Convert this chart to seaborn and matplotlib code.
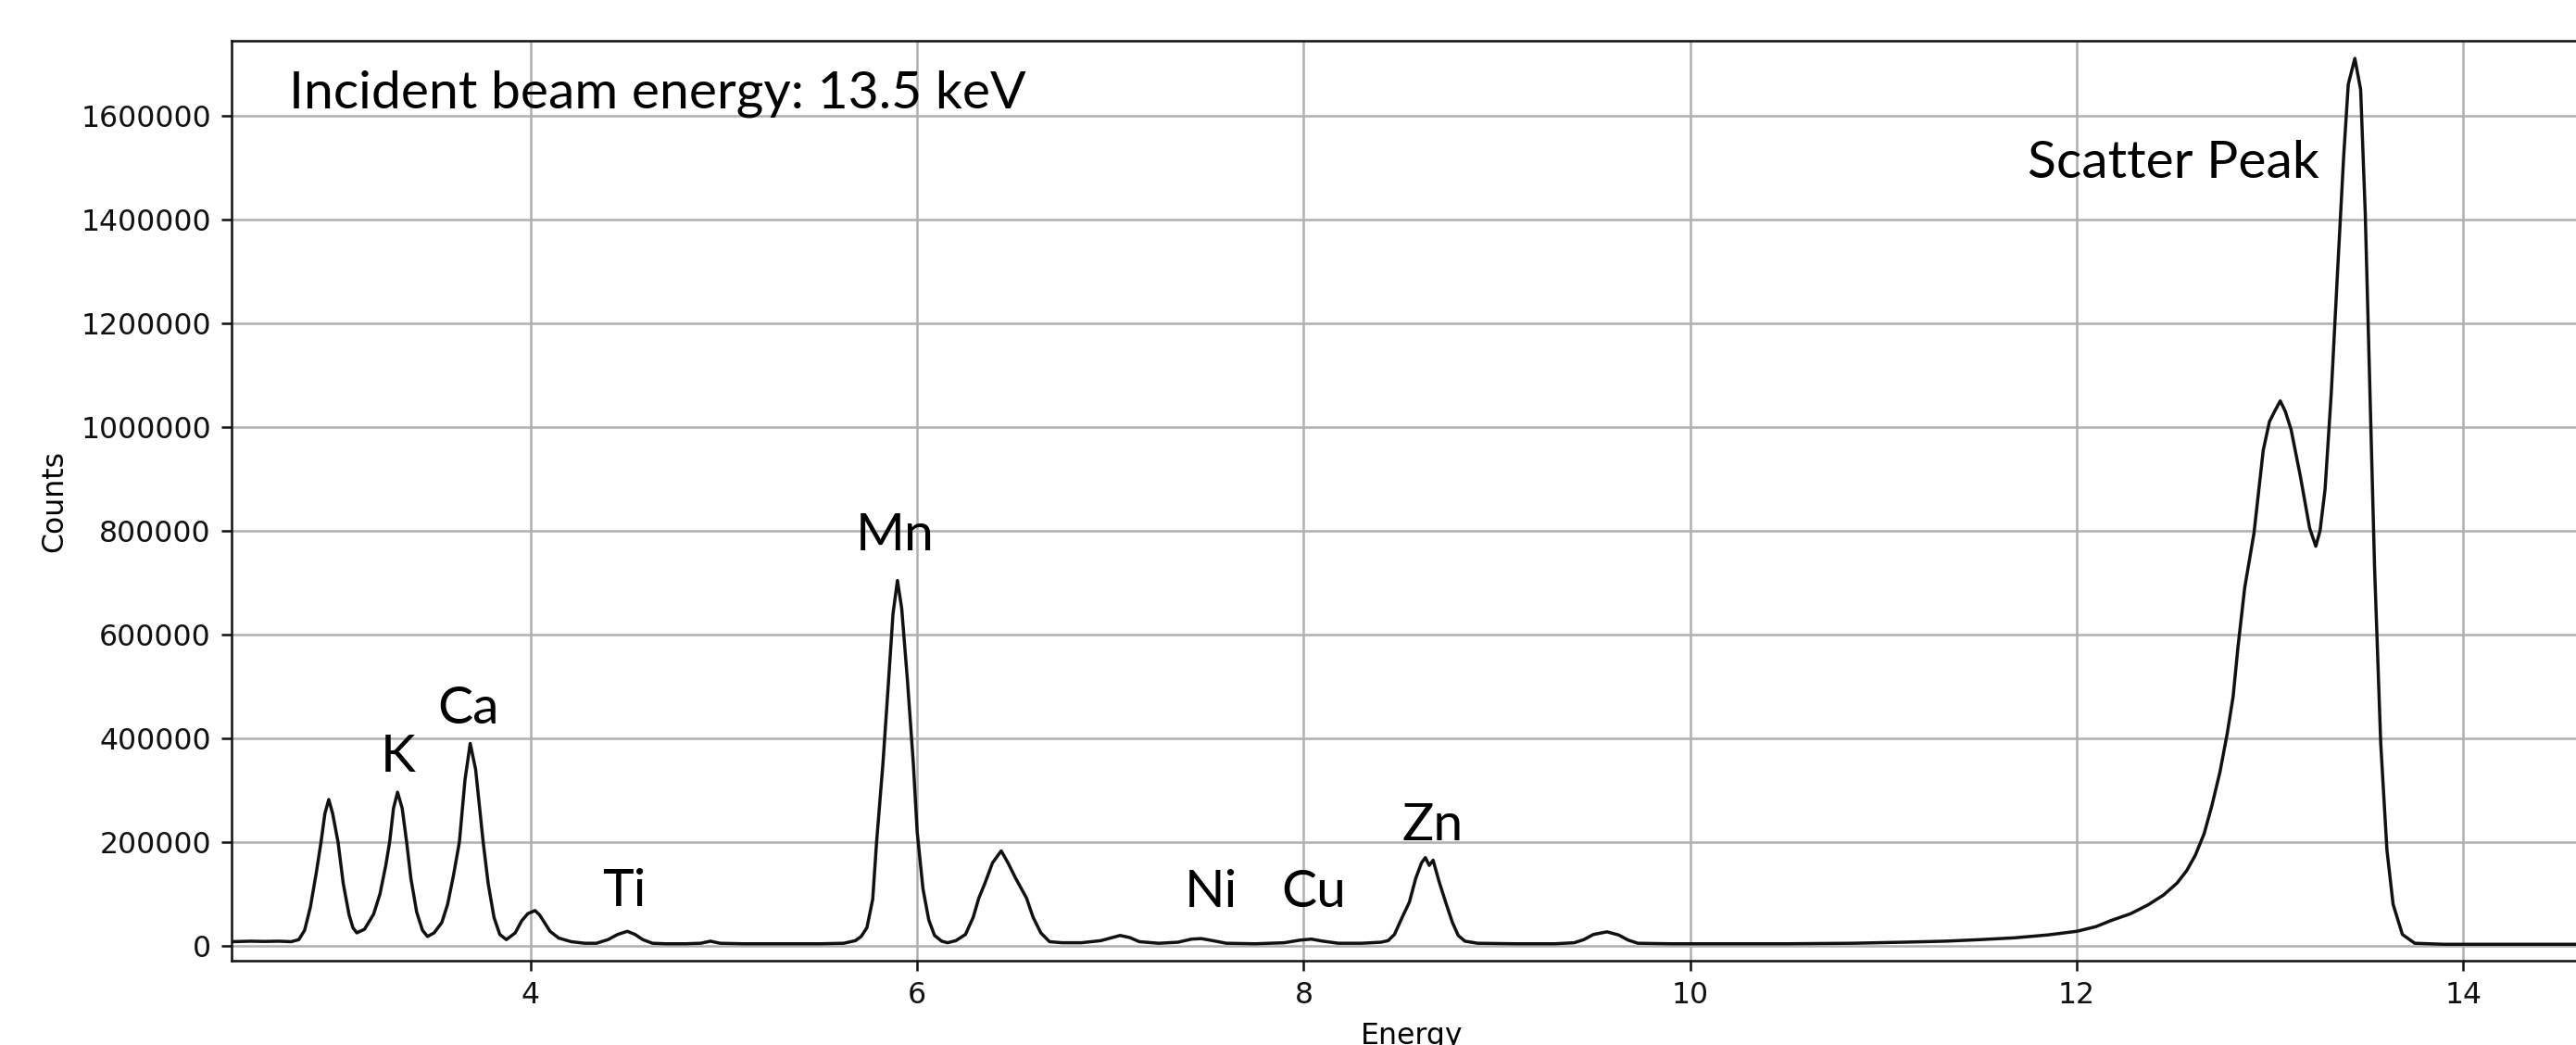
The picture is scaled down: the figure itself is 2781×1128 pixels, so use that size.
import numpy as np
import pandas as pd
import matplotlib
matplotlib.use('Agg')
import matplotlib.pyplot as plt
import seaborn as sns

# XRF spectrum (energy in keV, counts)
energy = [2.45, 2.55, 2.62, 2.70, 2.76, 2.80, 2.83, 2.86, 2.89, 2.915, 2.935, 2.955, 2.975,
          3.003, 3.03, 3.06, 3.08, 3.10, 3.14, 3.187, 3.22, 3.25, 3.27, 3.29, 3.311, 3.335,
          3.358, 3.38, 3.41, 3.44, 3.466, 3.50, 3.54, 3.57, 3.60, 3.631, 3.66, 3.687, 3.715,
          3.74, 3.754, 3.78, 3.81, 3.84, 3.874, 3.92, 3.953, 3.985, 4.022, 4.045, 4.066, 4.10,
          4.145, 4.21, 4.28, 4.34, 4.40, 4.45, 4.50, 4.54, 4.58, 4.63, 4.70, 4.80, 4.88, 4.93,
          4.98, 5.10, 5.30, 5.50, 5.62, 5.68, 5.71, 5.74, 5.77, 5.79, 5.823, 5.85, 5.875, 5.898,
          5.92, 5.95, 5.98, 6.00, 6.03, 6.06, 6.09, 6.127, 6.157, 6.20, 6.25, 6.29, 6.319, 6.35,
          6.39, 6.435, 6.47, 6.51, 6.566, 6.60, 6.64, 6.685, 6.75, 6.85, 6.95, 7.00, 7.05, 7.10,
          7.15, 7.25, 7.35, 7.42, 7.47, 7.53, 7.60, 7.75, 7.90, 7.98, 8.04, 8.10, 8.18, 8.30,
          8.40, 8.437, 8.47, 8.51, 8.547, 8.58, 8.61, 8.63, 8.65, 8.67, 8.70, 8.735, 8.77, 8.80,
          8.835, 8.90, 9.10, 9.30, 9.40, 9.45, 9.50, 9.57, 9.63, 9.68, 9.73, 9.90, 10.2, 10.5,
          10.84, 11.1, 11.32, 11.5, 11.68, 11.85, 12.0, 12.1, 12.18, 12.28, 12.37, 12.45, 12.52,
          12.57, 12.615, 12.66, 12.70, 12.742, 12.78, 12.81, 12.835, 12.87, 12.918, 12.966,
          12.998, 13.025, 13.054, 13.08, 13.11, 13.158, 13.206, 13.238, 13.26, 13.286, 13.318,
          13.35, 13.382, 13.406, 13.44, 13.47, 13.494, 13.518, 13.542, 13.574, 13.606, 13.638,
          13.686, 13.75, 13.9, 14.2, 14.67]
counts = [8000, 9000, 8500, 9000, 8000, 12000, 30000, 75000, 140000, 200000, 255000, 282000,
          255000, 200000, 120000, 60000, 35000, 25000, 32000, 61000, 100000, 155000, 200000,
          265000, 296000, 265000, 200000, 130000, 65000, 30000, 18000, 25000, 45000, 80000,
          135000, 200000, 320000, 390000, 340000, 250000, 200000, 120000, 55000, 22000, 12000,
          25000, 48000, 62000, 68000, 60000, 48000, 28000, 15000, 8000, 5000, 5000, 12000, 22000,
          28000, 22000, 12000, 5000, 4000, 4000, 5000, 9000, 5000, 4000, 4000, 4000, 5000, 10000,
          18000, 35000, 90000, 200000, 352000, 500000, 640000, 704000, 650000, 510000, 352000,
          220000, 110000, 50000, 20000, 9000, 6000, 10000, 22000, 55000, 92000, 120000, 160000,
          183000, 160000, 130000, 92000, 55000, 25000, 8000, 6000, 6000, 10000, 15000, 20000,
          16000, 8000, 5000, 7000, 13000, 14000, 10000, 5000, 4000, 6000, 11000, 13000, 9000,
          5000, 5000, 7000, 10000, 22000, 55000, 84000, 130000, 160000, 170000, 155000, 165000,
          125000, 84000, 45000, 20000, 9000, 5000, 4000, 4000, 6000, 12000, 22000, 27000, 21000,
          11000, 5000, 4000, 4000, 4000, 5000, 7000, 9000, 12000, 15500, 21000, 28000, 37000,
          49000, 62000, 79000, 98000, 121000, 145000, 175000, 216000, 270000, 335000, 410000,
          480000, 575000, 690000, 795000, 955000, 1010000, 1030000, 1050000, 1030000, 995000,
          905000, 805000, 770000, 800000, 880000, 1065000, 1295000, 1520000, 1660000, 1710000,
          1650000, 1410000, 1070000, 730000, 390000, 185000, 80000, 22000, 5000, 3000, 3000, 3000]

peak_names = ['K', 'Ca', 'Ti', 'Mn', 'Ni', 'Cu', 'Zn', 'Scatter Peak']
peak_x = [3.314, 3.679, 4.482, 5.886, 7.519, 8.054, 8.669, 12.50]
peak_y = [336000, 428600, 76000, 762000, 75000, 75000, 204000, 1479000]
beam_note = 'Incident beam energy: 13.5 keV'

x_ticks = [4, 6, 8, 10, 12, 14]
y_ticks = [0, 200000, 400000, 600000, 800000, 1000000, 1200000, 1400000, 1600000]

df = pd.DataFrame({'Energy': energy, 'Counts': counts})

s = 2.27  # the source figure is a scaled-up matplotlib plot
plt.rcParams['font.family'] = ['DejaVu Sans']

fig = plt.figure(figsize=(27.81, 11.28), dpi=100)
ax = fig.add_axes([250 / 2781, 91 / 1128, 2548 / 2781, 993 / 1128])

sns.lineplot(data=df, x='Energy', y='Counts', color='#111111', linewidth=1.1 * s, ax=ax)

ax.set_xlim(2.452, 14.666)
ax.set_ylim(-28600, 1744000)
ax.set_xticks(x_ticks)
ax.set_yticks(y_ticks)
ax.ticklabel_format(axis='y', style='plain')
ax.grid(True, color='#b0b0b0', linewidth=0.8 * s)
ax.set_axisbelow(True)
ax.tick_params(labelsize=10 * s, length=3.5 * s, width=0.8 * s, pad=3.5 * s, colors='#111111')
for sp in ax.spines.values():
    sp.set_linewidth(0.8 * s)
    sp.set_color('#111111')
ax.set_xlabel('Energy', fontsize=10 * s, labelpad=4 * s)
ax.set_ylabel('Counts', fontsize=10 * s, labelpad=4 * s)

for name, xx, yy in zip(peak_names, peak_x, peak_y):
    ax.text(xx, yy, name, ha='center', va='baseline', fontsize=41, family='Lato', color='black')
ax.text(2.749, 1614000, beam_note, ha='left', va='baseline', fontsize=41, family='Lato', color='black')

fig.savefig('out.png', dpi=100)
